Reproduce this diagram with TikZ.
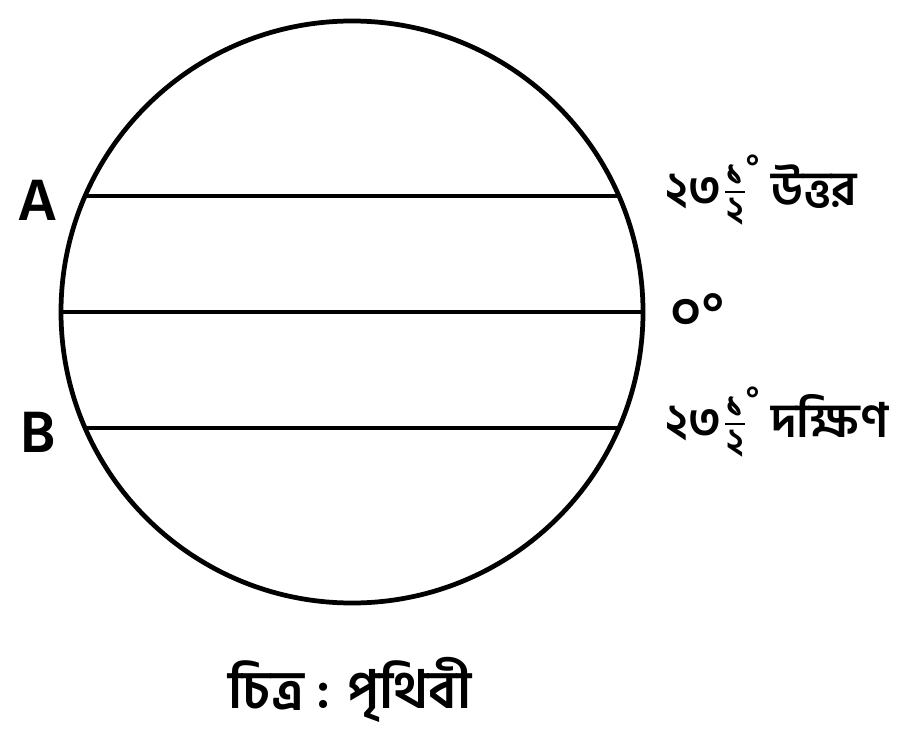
\documentclass[tikz,border=0pt]{standalone}
\usepackage{amsmath}
\usepackage{fontspec}
\setmainfont[Script=Bengali]{Hind Siliguri}
\usetikzlibrary{calc}
\newcommand{\fracdigit}[1]{\text{\fontsize{10.5}{11}\selectfont #1}}
\newcommand{\halfdeg}{$\frac{\fracdigit{১}}{\fracdigit{২}}$\kern-0.5pt\raisebox{1.2ex}{\small°}}

\begin{document}
\begin{tikzpicture}[x=0.01cm, y=-0.01cm]
    \tikzset{every node/.style={inner sep=0pt, font=\bfseries}}
    \useasboundingbox (0,0) rectangle (901,749);
    \coordinate (c) at (352,312);
    \draw [black, line width=1.35pt] (c) circle (291);
    % chords: tropics at 23.5 degrees, equator
    \coordinate (an) at ($(c)+(156.5:291)$);
    \coordinate (bn) at ($(c)+(23.5:291)$);
    \coordinate (eq1) at ($(c)+(180:291)$);
    \coordinate (eq2) at ($(c)+(0:291)$);
    \coordinate (as) at ($(c)+(203.5:291)$);
    \coordinate (bs) at ($(c)+(-23.5:291)$);
    \draw [black, line width=1.35pt] (an) -- (bn);
    \draw [black, line width=1.35pt] (eq1) -- (eq2);
    \draw [black, line width=1.35pt] (as) -- (bs);
    \node (A) at (38,200) {\fontsize{17}{20}\selectfont A};
    \node (B) at (38,432) {\fontsize{17}{20}\selectfont B};
    \node [anchor=west] (north) at (665,190) {\fontsize{13.5}{16}\selectfont ২৩\halfdeg{} উত্তর};
    \node [anchor=west] (zero) at (670,312) {\fontsize{15}{18}\selectfont ০°};
    \node [anchor=west] (south) at (665,422) {\fontsize{13.5}{16}\selectfont ২৩\halfdeg{} দক্ষিণ};
    \node (caption) at (350,690) {\fontsize{15}{18}\selectfont চিত্র : পৃথিবী};
\end{tikzpicture}
\end{document}
